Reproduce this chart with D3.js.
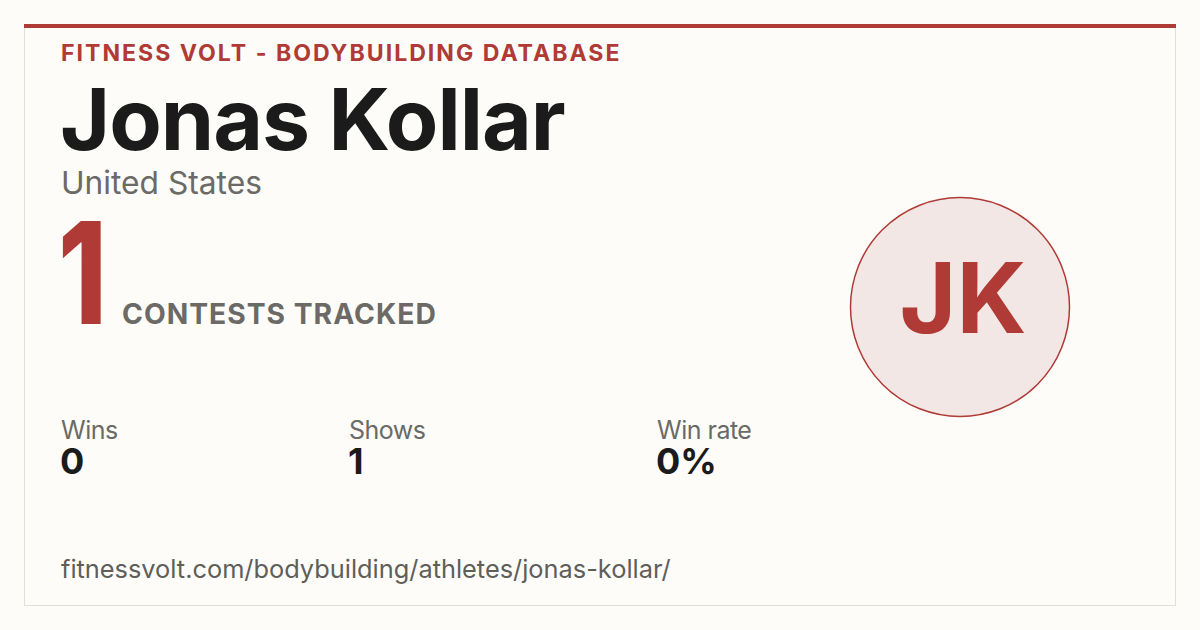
<!DOCTYPE html>
<html><head><meta charset="utf-8">
<script src="https://cdn.jsdelivr.net/npm/d3@7"></script>
<style>
html,body{margin:0;padding:0;background:#fdfcf8;}
svg{display:block;font-family:Inter, "Noto Sans", sans-serif;}
</style></head>
<body>
<svg id="c" width="1200" height="630"></svg>
<script>
const brand = "FITNESS VOLT - BODYBUILDING DATABASE";
const athleteName = "Jonas Kollar";
const country = "United States";
const contestCount = 1;
const contestLabel = "CONTESTS TRACKED";
const initials = "JK";
const statLabels = ["Wins", "Shows", "Win rate"];
const statValues = ["0", "1", "0%"];
const url = "fitnessvolt.com/bodybuilding/athletes/jonas-kollar/";

const RED = "#b03a35";
const svg = d3.select("#c");

svg.append("rect").attr("x",0).attr("y",0).attr("width",1200).attr("height",630).attr("fill","#fdfcf8");
svg.append("rect").attr("x",24.5).attr("y",24.5).attr("width",1151).attr("height",581)
  .attr("fill","#fdfcf8").attr("stroke","#e2dfd9").attr("stroke-width",1);
svg.append("rect").attr("x",24).attr("y",24).attr("width",1152).attr("height",4).attr("fill",RED);

function fit(sel, w){
  const n = sel.node();
  const cur = n.getComputedTextLength();
  const fs = parseFloat(sel.attr("font-size"));
  sel.attr("font-size", fs * w / cur);
  return sel;
}

fit(svg.append("text").attr("x",61).attr("y",61).attr("font-size",20).attr("font-weight",700)
  .attr("letter-spacing",2).attr("fill",RED).text(brand), 572);

fit(svg.append("text").attr("x",60).attr("y",150).attr("font-size",80).attr("font-weight",700)
  .attr("letter-spacing",-1).attr("fill","#1b1b1b").text(athleteName), 504);

fit(svg.append("text").attr("x",61).attr("y",194).attr("font-size",29).attr("font-weight",400)
  .attr("fill","#6b6a66").text(country), 201);

svg.append("text").attr("transform","translate(58,324) scale(0.78,1)")
  .attr("font-size",142).attr("font-weight",800)
  .attr("fill",RED).text(d3.format("d")(contestCount));

fit(svg.append("text").attr("x",122).attr("y",324).attr("font-size",30).attr("font-weight",700)
  .attr("letter-spacing",1).attr("fill","#6b6a66").text(contestLabel), 314);

// avatar
svg.append("circle").attr("cx",960).attr("cy",307).attr("r",109.5)
  .attr("fill","#f3e7e6").attr("stroke",RED).attr("stroke-width",1.5);
fit(svg.append("text").attr("x",963).attr("y",333).attr("text-anchor","middle")
  .attr("font-size",108).attr("font-weight",700).attr("fill",RED).text(initials), 127);

// stats
const xs = d3.scaleOrdinal().domain(statLabels).range([61, 349, 657]);
const g = svg.append("g");
statLabels.forEach((lab,i)=>{
  g.append("text").attr("x",xs(lab)).attr("y",439).attr("font-size",25).attr("font-weight",400)
    .attr("fill","#6b6a66").attr("letter-spacing",-0.5).text(lab);
  g.append("text").attr("x",xs(lab)-1).attr("y",474).attr("font-size",36).attr("font-weight",700)
    .attr("fill","#1b1b1b").text(statValues[i]);
});

fit(svg.append("text").attr("x",61).attr("y",578).attr("font-size",23).attr("font-weight",400)
  .attr("fill","#5f5e5a").text(url), 610);
</script>
</body></html>
